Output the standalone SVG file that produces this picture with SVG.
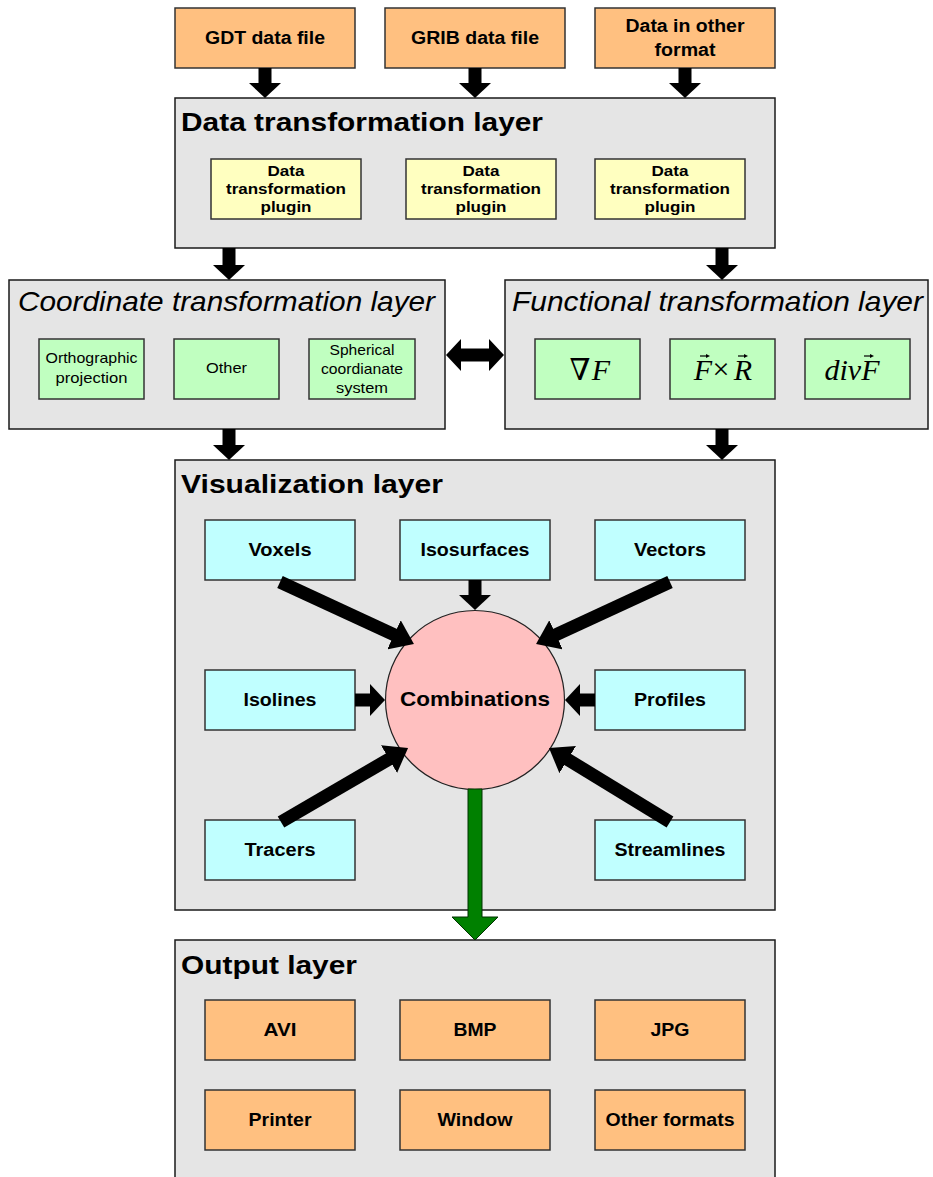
<svg xmlns="http://www.w3.org/2000/svg" width="933" height="1177" viewBox="0 0 933 1177">
<defs>
<style>
.layer{fill:#E5E5E5;stroke:#1a1a1a;stroke-width:1.5}
.org{fill:#FFC080;stroke:#333;stroke-width:1.5}
.yel{fill:#FFFFC0;stroke:#333;stroke-width:1.5}
.grn{fill:#C0FFC0;stroke:#333;stroke-width:1.5}
.cyn{fill:#C0FFFF;stroke:#333;stroke-width:1.5}
text{font-family:"Liberation Sans",Arial,sans-serif;fill:#000}
.ttl{font-size:26px;font-weight:bold}
.itl{font-size:28px;font-style:italic}
.lbl{font-size:17.5px;font-weight:bold;text-anchor:middle}
.plg{font-size:14.5px;font-weight:bold;text-anchor:middle}
.sm{font-size:15px;text-anchor:middle}
.math{font-family:"Liberation Serif","DejaVu Serif",serif;font-size:30px}
.con{stroke:#000;stroke-width:13;fill:none}
.vec{stroke:#000;stroke-width:1.2;fill:none}
</style>
<marker id="hs" markerUnits="userSpaceOnUse" viewBox="0 0 15 32" markerWidth="15" markerHeight="32" refX="1" refY="16" orient="auto-start-reverse">
<path d="M0,0 L15,16 L0,32 Z" fill="#000"/>
</marker>
<marker id="hl" markerUnits="userSpaceOnUse" viewBox="0 0 22 32" markerWidth="22" markerHeight="32" refX="1" refY="16" orient="auto">
<path d="M0,0 L22,16 L0,32 Z" fill="#000"/>
</marker>
<marker id="va" markerUnits="userSpaceOnUse" viewBox="0 0 4 4" markerWidth="4" markerHeight="4" refX="1" refY="2" orient="auto">
<path d="M0,0 L4,2 L0,4 Z" fill="#000"/>
</marker>
</defs>
<rect width="933" height="1177" fill="#fff"/>

<!-- Layers -->
<g id="layer-data">
<rect class="layer" x="175" y="98" width="600" height="150"/>
<text class="ttl" x="181" y="131" textLength="362" lengthAdjust="spacingAndGlyphs">Data transformation layer</text>
</g>
<g id="layer-coord">
<rect class="layer" x="9" y="280" width="436" height="149"/>
<text class="itl" x="18" y="311" textLength="417" lengthAdjust="spacingAndGlyphs">Coordinate transformation layer</text>
</g>
<g id="layer-func">
<rect class="layer" x="505" y="280" width="423" height="149"/>
<text class="itl" x="512" y="311" textLength="411" lengthAdjust="spacingAndGlyphs">Functional transformation layer</text>
</g>
<g id="layer-vis">
<rect class="layer" x="175" y="460" width="600" height="450"/>
<text class="ttl" x="181" y="493" textLength="262" lengthAdjust="spacingAndGlyphs">Visualization layer</text>
</g>
<g id="layer-out">
<rect class="layer" x="175" y="940" width="600" height="250"/>
<text class="ttl" x="181" y="974" textLength="176" lengthAdjust="spacingAndGlyphs">Output layer</text>
</g>

<!-- Input files -->
<g id="gdt">
<rect class="org" x="175" y="8" width="180" height="60"/>
<text class="lbl" x="265" y="44" textLength="120" lengthAdjust="spacingAndGlyphs">GDT data file</text>
</g>
<g id="grib">
<rect class="org" x="385" y="8" width="180" height="60"/>
<text class="lbl" x="475" y="44" textLength="128" lengthAdjust="spacingAndGlyphs">GRIB data file</text>
</g>
<g id="other-in">
<rect class="org" x="595" y="8" width="180" height="60"/>
<text class="lbl" x="685" y="32" textLength="119" lengthAdjust="spacingAndGlyphs">Data in other</text>
<text class="lbl" x="685" y="56" textLength="61" lengthAdjust="spacingAndGlyphs">format</text>
</g>

<!-- Plugins -->
<g id="plugin1">
<rect class="yel" x="211" y="159" width="150" height="60"/>
<text class="plg" x="286" y="176" textLength="37" lengthAdjust="spacingAndGlyphs">Data</text>
<text class="plg" x="286" y="194" textLength="120" lengthAdjust="spacingAndGlyphs">transformation</text>
<text class="plg" x="286" y="212" textLength="51" lengthAdjust="spacingAndGlyphs">plugin</text>
</g>
<g id="plugin2">
<rect class="yel" x="406" y="159" width="150" height="60"/>
<text class="plg" x="481" y="176" textLength="37" lengthAdjust="spacingAndGlyphs">Data</text>
<text class="plg" x="481" y="194" textLength="120" lengthAdjust="spacingAndGlyphs">transformation</text>
<text class="plg" x="481" y="212" textLength="51" lengthAdjust="spacingAndGlyphs">plugin</text>
</g>
<g id="plugin3">
<rect class="yel" x="595" y="159" width="150" height="60"/>
<text class="plg" x="670" y="176" textLength="37" lengthAdjust="spacingAndGlyphs">Data</text>
<text class="plg" x="670" y="194" textLength="120" lengthAdjust="spacingAndGlyphs">transformation</text>
<text class="plg" x="670" y="212" textLength="51" lengthAdjust="spacingAndGlyphs">plugin</text>
</g>

<!-- Coordinate transforms -->
<g id="ortho">
<rect class="grn" x="39" y="339" width="105" height="60"/>
<text class="sm" x="91.5" y="363" textLength="92" lengthAdjust="spacingAndGlyphs">Orthographic</text>
<text class="sm" x="91.5" y="383" textLength="72" lengthAdjust="spacingAndGlyphs">projection</text>
</g>
<g id="other-coord">
<rect class="grn" x="174" y="339" width="105" height="60"/>
<text class="sm" x="226.5" y="373" textLength="41" lengthAdjust="spacingAndGlyphs">Other</text>
</g>
<g id="spherical">
<rect class="grn" x="309" y="339" width="106" height="60"/>
<text class="sm" x="362" y="355" textLength="65" lengthAdjust="spacingAndGlyphs">Spherical</text>
<text class="sm" x="362" y="374" textLength="82" lengthAdjust="spacingAndGlyphs">coordianate</text>
<text class="sm" x="362" y="393" textLength="52" lengthAdjust="spacingAndGlyphs">system</text>
</g>

<!-- Functional transforms -->
<g id="grad">
<rect class="grn" x="535" y="339" width="105" height="60"/>
<text class="math" x="580" y="380" text-anchor="middle" font-size="25">∇</text>
<text class="math" x="601" y="380" text-anchor="middle" font-style="italic">F</text>
</g>
<g id="cross">
<rect class="grn" x="670" y="339" width="105" height="60"/>
<text class="math" x="703" y="380" text-anchor="middle" font-style="italic">F</text>
<text class="math" x="721" y="379" text-anchor="middle" font-size="22">×</text>
<text class="math" x="743" y="380" text-anchor="middle" font-style="italic">R</text>
<line class="vec" x1="700" y1="356" x2="707" y2="356" marker-end="url(#va)"/>
<line class="vec" x1="738" y1="356" x2="745" y2="356" marker-end="url(#va)"/>
</g>
<g id="div">
<rect class="grn" x="805" y="339" width="105" height="60"/>
<text class="math" x="852" y="380" text-anchor="middle" font-style="italic">divF</text>
<line class="vec" x1="864" y1="356" x2="871" y2="356" marker-end="url(#va)"/>
</g>

<!-- Visualization -->
<g id="voxels">
<rect class="cyn" x="205" y="520" width="150" height="60"/>
<text class="lbl" x="280" y="556" textLength="63" lengthAdjust="spacingAndGlyphs">Voxels</text>
</g>
<g id="isosurfaces">
<rect class="cyn" x="400" y="520" width="150" height="60"/>
<text class="lbl" x="475" y="556" textLength="109" lengthAdjust="spacingAndGlyphs">Isosurfaces</text>
</g>
<g id="vectors">
<rect class="cyn" x="595" y="520" width="150" height="60"/>
<text class="lbl" x="670" y="556" textLength="72" lengthAdjust="spacingAndGlyphs">Vectors</text>
</g>
<g id="isolines">
<rect class="cyn" x="205" y="670" width="150" height="60"/>
<text class="lbl" x="280" y="706" textLength="73" lengthAdjust="spacingAndGlyphs">Isolines</text>
</g>
<g id="profiles">
<rect class="cyn" x="595" y="670" width="150" height="60"/>
<text class="lbl" x="670" y="706" textLength="72" lengthAdjust="spacingAndGlyphs">Profiles</text>
</g>
<g id="tracers">
<rect class="cyn" x="205" y="820" width="150" height="60"/>
<text class="lbl" x="280" y="856" textLength="71" lengthAdjust="spacingAndGlyphs">Tracers</text>
</g>
<g id="streamlines">
<rect class="cyn" x="595" y="820" width="150" height="60"/>
<text class="lbl" x="670" y="856" textLength="111" lengthAdjust="spacingAndGlyphs">Streamlines</text>
</g>
<g id="combinations">
<circle cx="475" cy="700" r="89.5" fill="#FFC0C0" stroke="#222" stroke-width="1.2"/>
<text x="475" y="706" font-size="21" font-weight="bold" text-anchor="middle" textLength="150" lengthAdjust="spacingAndGlyphs">Combinations</text>
</g>

<!-- Output -->
<g id="avi">
<rect class="org" x="205" y="1000" width="150" height="60"/>
<text class="lbl" x="280" y="1036" textLength="33" lengthAdjust="spacingAndGlyphs">AVI</text>
</g>
<g id="bmp">
<rect class="org" x="400" y="1000" width="150" height="60"/>
<text class="lbl" x="475" y="1036" textLength="43" lengthAdjust="spacingAndGlyphs">BMP</text>
</g>
<g id="jpg">
<rect class="org" x="595" y="1000" width="150" height="60"/>
<text class="lbl" x="670" y="1036" textLength="39" lengthAdjust="spacingAndGlyphs">JPG</text>
</g>
<g id="printer">
<rect class="org" x="205" y="1090" width="150" height="60"/>
<text class="lbl" x="280" y="1126" textLength="63" lengthAdjust="spacingAndGlyphs">Printer</text>
</g>
<g id="window">
<rect class="org" x="400" y="1090" width="150" height="60"/>
<text class="lbl" x="475" y="1126" textLength="75" lengthAdjust="spacingAndGlyphs">Window</text>
</g>
<g id="other-out">
<rect class="org" x="595" y="1090" width="150" height="60"/>
<text class="lbl" x="670" y="1126" textLength="129" lengthAdjust="spacingAndGlyphs">Other formats</text>
</g>

<!-- Connectors -->
<g id="connectors">
<line class="con" x1="265" y1="68" x2="265" y2="84" marker-end="url(#hs)"/>
<line class="con" x1="475" y1="68" x2="475" y2="84" marker-end="url(#hs)"/>
<line class="con" x1="685" y1="68" x2="685" y2="84" marker-end="url(#hs)"/>
<line class="con" x1="229" y1="248" x2="229" y2="266" marker-end="url(#hs)"/>
<line class="con" x1="722" y1="248" x2="722" y2="266" marker-end="url(#hs)"/>
<line class="con" x1="229" y1="429" x2="229" y2="446" marker-end="url(#hs)"/>
<line class="con" x1="722" y1="429" x2="722" y2="446" marker-end="url(#hs)"/>
<line class="con" x1="460" y1="355" x2="490" y2="355" marker-start="url(#hs)" marker-end="url(#hs)"/>
<line class="con" x1="475" y1="580" x2="475" y2="596" marker-end="url(#hs)"/>
<line class="con" x1="355" y1="700" x2="371" y2="700" marker-end="url(#hs)"/>
<line class="con" x1="595" y1="700" x2="579" y2="700" marker-end="url(#hs)"/>
<line class="con" x1="280" y1="582" x2="394.9" y2="635.2" marker-end="url(#hl)"/>
<line class="con" x1="670" y1="582" x2="555.1" y2="635.2" marker-end="url(#hl)"/>
<line class="con" x1="281" y1="822" x2="389.9" y2="758.6" marker-end="url(#hl)"/>
<line class="con" x1="670" y1="822" x2="566.9" y2="759" marker-end="url(#hl)"/>
<polygon points="468,789 482,789 482,917 498,917 475,940 452,917 468,917" fill="#008000" stroke="#003300" stroke-width="1"/>
</g>
</svg>
